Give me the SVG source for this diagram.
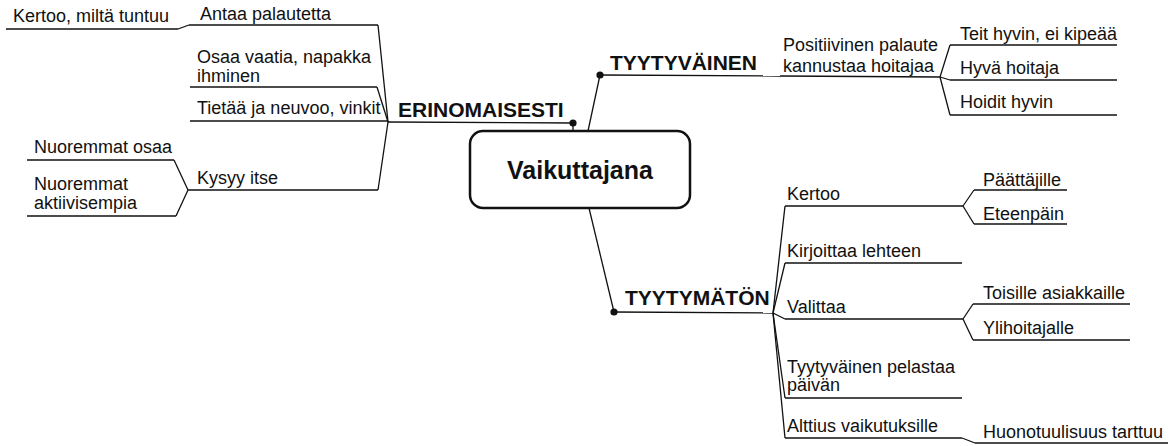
<svg xmlns="http://www.w3.org/2000/svg" width="1174" height="446" viewBox="0 0 1174 446">
<style>
.t{font-family:"Liberation Sans",Arial,sans-serif;font-size:18px;fill:#111}
.b{font-family:"Liberation Sans",Arial,sans-serif;font-size:21px;font-weight:bold;fill:#111}
.c{font-family:"Liberation Sans",Arial,sans-serif;font-size:25px;font-weight:bold;fill:#111}
.l{fill:none;stroke:#111;stroke-width:1.3}
.d{fill:#111}
</style>
<rect width="1174" height="446" fill="#fff"/>
<g id="connectors">
<path class="l" d="M178,29 L189,25"/>
<path class="l" d="M378,25 L388,122"/>
<path class="l" d="M377,87 L388,122"/>
<path class="l" d="M378,190 L388,122"/>
<path class="l" d="M174,160 L188,190"/>
<path class="l" d="M176,216 L188,190"/>
<path class="l" d="M573,123 V131"/>
<path class="l" d="M588,131 L600,75"/>
<path class="l" d="M589,208 L614,312"/>
<path class="l" d="M940,77 L950,45"/>
<path class="l" d="M940,77 L950,80"/>
<path class="l" d="M940,77 L950,115"/>
<path class="l" d="M773,313 L785,206"/>
<path class="l" d="M773,313 L785,263"/>
<path class="l" d="M773,313 L785,319"/>
<path class="l" d="M773,313 L785,398"/>
<path class="l" d="M773,313 L785,438"/>
<path class="l" d="M963,206 L974,190"/>
<path class="l" d="M963,206 L974,224"/>
<path class="l" d="M963,319 L973,304"/>
<path class="l" d="M963,319 L973,340"/>
<path class="l" d="M962,438 L975,443"/>
<circle class="d" cx="573" cy="123" r="3.6"/>
<circle class="d" cx="600" cy="75" r="3.6"/>
<circle class="d" cx="614" cy="312" r="3.6"/>
</g>
<g id="center">
<rect x="470" y="131" width="220" height="77" rx="13" fill="#fff" stroke="#111" stroke-width="2.5"/>
<text class="c" x="580" y="179" text-anchor="middle">Vaikuttajana</text>
</g>
<g id="erinomaisesti">
<text class="b" x="398" y="117">ERINOMAISESTI</text>
<path class="l" d="M388,122 L573,123"/>
</g>
<g id="kertoo-tuntuu">
<text class="t" x="13" y="22">Kertoo, miltä tuntuu</text>
<path class="l" d="M6,29 H178"/>
</g>
<g id="antaa">
<text class="t" x="200" y="20">Antaa palautetta</text>
<path class="l" d="M189,25 H378"/>
</g>
<g id="osaa">
<text class="t" x="197" y="63">Osaa vaatia, napakka</text>
<text class="t" x="197" y="82">ihminen</text>
<path class="l" d="M190,87 H377"/>
</g>
<g id="tietaa">
<text class="t" x="197" y="114">Tietää ja neuvoo, vinkit</text>
<path class="l" d="M190,121 H388"/>
</g>
<g id="kysyy">
<text class="t" x="197" y="184">Kysyy itse</text>
<path class="l" d="M188,190 H378"/>
</g>
<g id="nuoremmat-osaa">
<text class="t" x="34" y="153">Nuoremmat osaa</text>
<path class="l" d="M27,160 H174"/>
</g>
<g id="nuoremmat-aktiivisempia">
<text class="t" x="34" y="190">Nuoremmat</text>
<text class="t" x="34" y="209">aktiivisempia</text>
<path class="l" d="M27,216 H176"/>
</g>
<g id="tyytyvainen">
<text class="b" x="610" y="70">TYYTYVÄINEN</text>
<path class="l" d="M600,75 L780,76"/>
</g>
<g id="positiivinen">
<text class="t" x="783" y="51">Positiivinen palaute</text>
<text class="t" x="783" y="72">kannustaa hoitajaa</text>
<path class="l" d="M780,76 L940,77"/>
</g>
<g id="teit-hyvin">
<text class="t" x="960" y="40">Teit hyvin, ei kipeää</text>
<path class="l" d="M950,45 H1117"/>
</g>
<g id="hyva-hoitaja">
<text class="t" x="960" y="74">Hyvä hoitaja</text>
<path class="l" d="M950,80 H1117"/>
</g>
<g id="hoidit-hyvin">
<text class="t" x="960" y="108">Hoidit hyvin</text>
<path class="l" d="M950,115 H1117"/>
</g>
<g id="tyytymaton">
<text class="b" x="625" y="305">TYYTYMÄTÖN</text>
<path class="l" d="M614,312 L773,313"/>
</g>
<g id="kertoo">
<text class="t" x="787" y="200">Kertoo</text>
<path class="l" d="M785,206 H963"/>
</g>
<g id="paattajille">
<text class="t" x="983" y="186">Päättäjille</text>
<path class="l" d="M974,190 H1067"/>
</g>
<g id="eteenpain">
<text class="t" x="983" y="220">Eteenpäin</text>
<path class="l" d="M974,224 H1067"/>
</g>
<g id="kirjoittaa">
<text class="t" x="787" y="257">Kirjoittaa lehteen</text>
<path class="l" d="M785,263 H962"/>
</g>
<g id="valittaa">
<text class="t" x="787" y="313">Valittaa</text>
<path class="l" d="M785,319 H963"/>
</g>
<g id="toisille">
<text class="t" x="983" y="299">Toisille asiakkaille</text>
<path class="l" d="M973,304 H1130"/>
</g>
<g id="ylihoitajalle">
<text class="t" x="983" y="334">Ylihoitajalle</text>
<path class="l" d="M973,340 H1130"/>
</g>
<g id="pelastaa">
<text class="t" x="787" y="373">Tyytyväinen pelastaa</text>
<text class="t" x="787" y="391">päivän</text>
<path class="l" d="M785,398 H962"/>
</g>
<g id="alttius">
<text class="t" x="787" y="432">Alttius vaikutuksille</text>
<path class="l" d="M785,438 H962"/>
</g>
<g id="huonotuulisuus">
<text class="t" x="983" y="438">Huonotuulisuus tarttuu</text>
<path class="l" d="M975,443 H1168"/>
</g>
</svg>
